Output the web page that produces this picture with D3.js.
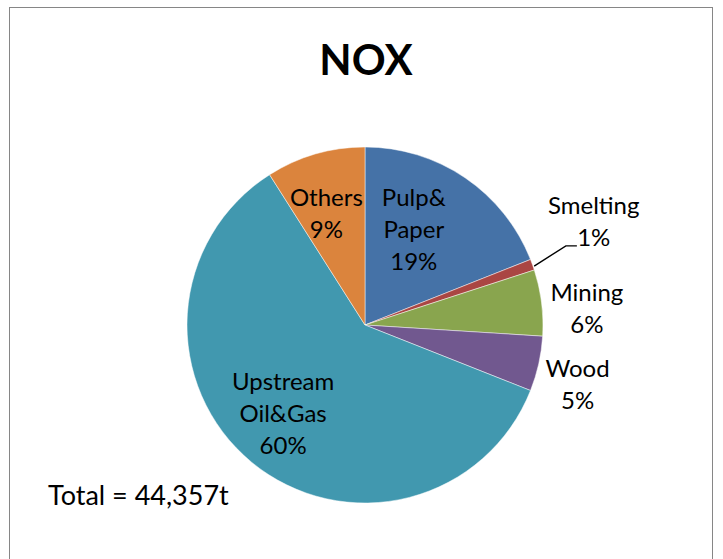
<!DOCTYPE html>
<html>
<head>
<meta charset="utf-8">
<script src="https://d3js.org/d3.v7.min.js"></script>
<style>
  html, body { margin: 0; padding: 0; background: #fff; }
  svg { display: block; }
  text { font-family: Lato, "Open Sans", sans-serif; fill: #000; }
</style>
</head>
<body>
<svg id="chart" width="723" height="559"></svg>
<script>
// ---- data ----
const categories = ["Pulp&Paper", "Smelting", "Mining", "Wood", "Upstream Oil&Gas", "Others"];
const values = [19, 1, 6, 5, 60, 9];
const labelLines = [["Pulp&", "Paper", "19%"], ["Smelting", "1%"], ["Mining", "6%"], ["Wood", "5%"], ["Upstream", "Oil&Gas", "60%"], ["Others", "9%"]];
const colors = ["#4572A7", "#AA4643", "#89A54E", "#71588F", "#4198AF", "#DB843D"];
const titleText = "NOX";
const totalText = "Total = 44,357t";

// ---- layout (label placement in polar terms: radius factor and angle nudge in degrees) ----
const labelRadius = [0.60, 1.41, 1.25, 1.24, 0.68, 0.66];
const labelAngleNudge = [-7, -4.5, 3, 3, 3, -3];

const W = 723, H = 559;
const cx = 365, cy = 325, R = 178;
const svg = d3.select("#chart");

// frame
svg.append("rect").attr("x", 9.5).attr("y", 7.5).attr("width", 703).attr("height", 600)
  .attr("fill", "#fff").attr("stroke", "#868686").attr("stroke-width", 1);

// title
svg.append("text").attr("x", 366).attr("y", 75).attr("text-anchor", "middle")
  .style("font-size", "42px").style("font-weight", "bold").text(titleText);

const pie = d3.pie().sort(null).value(d => d)(values);
const arc = d3.arc().innerRadius(0).outerRadius(R);
const color = d3.scaleOrdinal().domain(categories).range(colors);

const g = svg.append("g").attr("transform", `translate(${cx},${cy})`);
g.selectAll("path.slice").data(pie).enter().append("path")
  .attr("class", "slice")
  .attr("d", arc)
  .attr("fill", (d, i) => color(categories[i]))
  .attr("stroke", "#ffffff").attr("stroke-opacity", 0.6).attr("stroke-width", 0.8);

const fs = 24, lh = 32;
function polar(rad, ang) { return [rad * Math.sin(ang), -rad * Math.cos(ang)]; }

pie.forEach((d, i) => {
  const mid = (d.startAngle + d.endAngle) / 2 + labelAngleNudge[i] * Math.PI / 180;
  const [x, y] = polar(R * labelRadius[i], mid);
  const lines = labelLines[i];
  const t = g.append("text").attr("text-anchor", "middle").style("font-size", fs + "px");
  const y0 = y - (lines.length - 1) * lh / 2;
  lines.forEach((ln, j) => {
    t.append("tspan").attr("x", x).attr("y", y0 + j * lh).attr("dy", "0.35em").text(ln);
  });
});

// leader line for the small Smelting slice
{
  const d = pie[1];
  const mid = (d.startAngle + d.endAngle) / 2;
  const [x1, y1] = polar(R * 1.01, mid);
  const [x2, y2] = polar(R * 1.213, mid - 1.7 * Math.PI / 180);
  g.append("path").attr("d", `M${x1},${y1 + 2}L${x2},${y2}L${x2 + 11},${y2}`)
    .attr("fill", "none").attr("stroke", "#000").attr("stroke-width", 1.4);
}

// total annotation
svg.append("text").attr("x", 48).attr("y", 505).style("font-size", "27px").text(totalText);
</script>
</body>
</html>
